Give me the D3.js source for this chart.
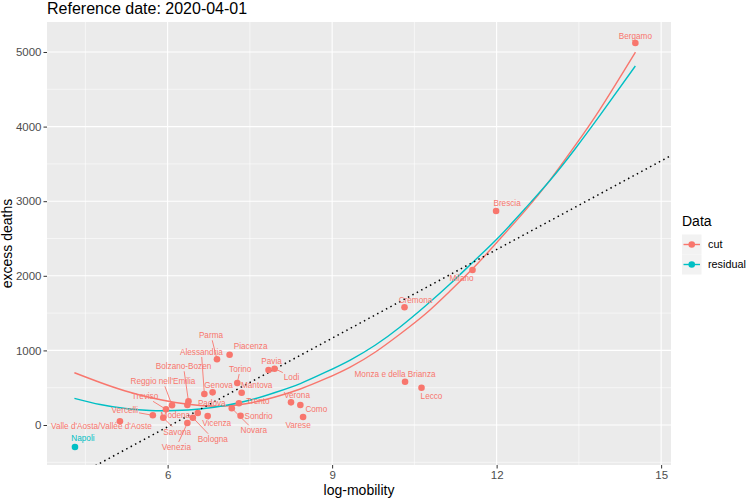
<!DOCTYPE html>
<html>
<head>
<meta charset="utf-8">
<script src="https://cdn.jsdelivr.net/npm/d3@7"></script>
<style>
  body { margin: 0; background: #fff; }
  text { font-family: "Liberation Sans", Arial, sans-serif; }
</style>
</head>
<body>
<div id="chart"></div>
<script>
// provinces
var provinces = ["Bergamo", "Brescia", "Milano", "Cremona", "Monza e della Brianza", "Lecco",
  "Verona", "Como", "Varese", "Pavia", "Lodi", "Piacenza", "Parma", "Alessandria", "Genova",
  "Torino", "Mantova", "Trento", "Novara", "Sondrio", "Vicenza", "Padova", "Bologna", "Venezia",
  "Savona", "Modena", "Bolzano-Bozen", "Reggio nell'Emilia", "Treviso", "Vercelli",
  "Valle d'Aosta/Vallée d'Aoste", "Napoli"]
var mobility = [14.53, 11.99, 11.56, 10.32, 10.33, 10.63,
  8.25, 8.42, 8.47, 7.84, 7.95, 7.13, 6.90, 6.67, 6.82,
  7.27, 7.35, 7.30, 7.17, 7.33, 6.73, 6.55, 6.46, 6.36,
  5.92, 6.36, 6.38, 6.08, 5.97, 5.73,
  5.13, 4.31]
var excessDeaths = [5121, 2869, 2078, 1578, 580, 500,
  304, 268, 107, 737, 755, 942, 881, 416, 438,
  563, 433, 291, 224, 125, 121, 161, 98, 27,
  98, 268, 318, 264, 210, 130,
  50, -295]
var dataType = ["cut", "cut", "cut", "cut", "cut", "cut",
  "cut", "cut", "cut", "cut", "cut", "cut", "cut", "cut", "cut",
  "cut", "cut", "cut", "cut", "cut", "cut", "cut", "cut", "cut",
  "cut", "cut", "cut", "cut", "cut", "cut",
  "cut", "residual"]

// where the repelled labels ended up (px from the point)
var labelDx = [0, 11, -11, 11, -10, 10,
  6, 16, -5, 3, 17, 21, -6, -3, 6,
  3, 15, 19, 22, 18, 9, 14, 20, -11,
  14, -12, -5, -9, -21, -28,
  -18.5, 8]
var labelDy = [-7, -8, 8, -7, -8, 8,
  -7, 4, 8, -9, 8, -9, -24, -42, -7,
  -14, -8, -2, 22, 0, 7, -10, 21, 24,
  14, 10, -35, -24, -13, -5,
  5, -9]
var labelSegment = [false, false, false, false, false, false,
  false, false, false, false, true, false, true, true, false,
  true, false, false, true, false, false, false, true, true,
  true, false, true, true, true, true,
  false, false]

// the two fitted curves
var fitX = [4.30, 4.77, 5.23, 5.68, 6.14, 6.59, 7.05, 7.51, 7.96, 8.42, 8.87, 9.33,
  9.79, 10.24, 10.70, 11.15, 11.61, 12.06, 12.52, 12.98, 13.43, 13.89, 14.53]
var fitCut = [701, 570, 456, 369, 302, 261, 255, 295, 375, 483, 617, 777,
  979, 1220, 1488, 1796, 2131, 2493, 2874, 3290, 3744, 4239, 4997]
var fitResidual = [358, 275, 221, 194, 194, 214, 261, 335, 436, 556, 704, 871,
  1072, 1314, 1595, 1890, 2212, 2534, 2902, 3284, 3700, 4156, 4812]

// dotted reference line
var ablineIntercept = -2400
var ablineSlope = 396

var xTicks = [6, 9, 12, 15]
var xMinor = [4.5, 7.5, 10.5, 13.5]
var yTicks = [0, 1000, 2000, 3000, 4000, 5000]
var yMinor = [-500, 500, 1500, 2500, 3500, 4500]
var groups = ["cut", "residual"]

var width = 746, height = 500
var panel = {left: 47, right: 671, top: 22, bottom: 465}

var svg = d3.select("#chart").append("svg")
  .attr("width", width)
  .attr("height", height)

var x = d3.scaleLinear().domain([3.80, 15.18]).range([panel.left, panel.right])
var y = d3.scaleLinear().domain([-536, 5402]).range([panel.bottom, panel.top])
var color = d3.scaleOrdinal().domain(groups).range(["#F8766D", "#00BFC4"])

// panel + grid
svg.append("rect")
  .attr("x", panel.left).attr("y", panel.top)
  .attr("width", panel.right - panel.left).attr("height", panel.bottom - panel.top)
  .attr("fill", "#EBEBEB")

svg.append("clipPath").attr("id", "clip")
  .append("rect")
  .attr("x", panel.left).attr("y", panel.top)
  .attr("width", panel.right - panel.left).attr("height", panel.bottom - panel.top)

var grid = svg.append("g").attr("stroke", "#fff")
grid.selectAll("line.xmin").data(xMinor).enter().append("line")
  .attr("x1", d => x(d)).attr("x2", d => x(d))
  .attr("y1", panel.top).attr("y2", panel.bottom)
  .attr("stroke-width", 0.55)
grid.selectAll("line.ymin").data(yMinor).enter().append("line")
  .attr("y1", d => y(d)).attr("y2", d => y(d))
  .attr("x1", panel.left).attr("x2", panel.right)
  .attr("stroke-width", 0.55)
grid.selectAll("line.xmaj").data(xTicks).enter().append("line")
  .attr("x1", d => x(d)).attr("x2", d => x(d))
  .attr("y1", panel.top).attr("y2", panel.bottom)
  .attr("stroke-width", 1.1)
grid.selectAll("line.ymaj").data(yTicks).enter().append("line")
  .attr("y1", d => y(d)).attr("y2", d => y(d))
  .attr("x1", panel.left).attr("x2", panel.right)
  .attr("stroke-width", 1.1)

var plot = svg.append("g").attr("clip-path", "url(#clip)")

// fitted curves
var line = d3.line()
  .x(d => x(d[0]))
  .y(d => y(d[1]))
  .curve(d3.curveNatural)

plot.append("path")
  .datum(fitX.map((v, i) => [v, fitCut[i]]))
  .attr("d", line)
  .attr("fill", "none")
  .attr("stroke", color("cut"))
  .attr("stroke-width", 1.4)

plot.append("path")
  .datum(fitX.map((v, i) => [v, fitResidual[i]]))
  .attr("d", line)
  .attr("fill", "none")
  .attr("stroke", color("residual"))
  .attr("stroke-width", 1.4)

// dotted abline over the whole x range
var xd = x.domain()
plot.append("line")
  .attr("x1", x(xd[0])).attr("y1", y(ablineIntercept + ablineSlope * xd[0]))
  .attr("x2", x(xd[1])).attr("y2", y(ablineIntercept + ablineSlope * xd[1]))
  .attr("stroke", "#000")
  .attr("stroke-width", 1.5)
  .attr("stroke-dasharray", "1.5,3.5")

// points
var pts = provinces.map((p, i) => ({name: p, mx: mobility[i], ed: excessDeaths[i], type: dataType[i],
  dx: labelDx[i], dy: labelDy[i], seg: labelSegment[i]}))

plot.selectAll("circle.pt").data(pts).enter().append("circle")
  .attr("cx", d => x(d.mx))
  .attr("cy", d => y(d.ed))
  .attr("r", 3.3)
  .attr("fill", d => color(d.type))

// labels (repel-like, offsets)
var labels = svg.append("g")
var lab = labels.selectAll("text").data(pts).enter().append("text")
  .attr("x", d => x(d.mx) + d.dx)
  .attr("y", d => y(d.ed) + d.dy)
  .attr("dy", "0.35em")
  .attr("text-anchor", "middle")
  .style("font-size", "8.2px")
  .attr("fill", d => color(d.type))
  .text(d => d.name)

// segments from the point to the label box
lab.each(function(d) {
  if (!d.seg) return
  var w = this.getComputedTextLength() / 2 + 1
  var h = 5
  var px = x(d.mx), py = y(d.ed)
  var cx = px + d.dx, cy = py + d.dy
  var vx = cx - px, vy = cy - py
  // find where the ray leaves the label box
  var tx = vx !== 0 ? (Math.abs(vx) - w) / Math.abs(vx) : -Infinity
  var ty = vy !== 0 ? (Math.abs(vy) - h) / Math.abs(vy) : -Infinity
  var t = Math.max(tx, ty)
  if (t <= 0) return
  var len = Math.sqrt(vx * vx + vy * vy)
  var t0 = 2 / len
  labels.append("line")
    .attr("x1", px + vx * t0).attr("y1", py + vy * t0)
    .attr("x2", px + vx * t).attr("y2", py + vy * t)
    .attr("stroke", color(d.type))
    .attr("stroke-width", 0.9)
})

// axes
var xAxis = svg.append("g")
  .attr("transform", "translate(0," + panel.bottom + ")")
  .call(d3.axisBottom(x).tickValues(xTicks).tickSize(3.5).tickPadding(2))
var yAxis = svg.append("g")
  .attr("transform", "translate(" + panel.left + ",0)")
  .call(d3.axisLeft(y).tickValues(yTicks).tickFormat(d3.format("d")).tickSize(3.5).tickPadding(2))

svg.selectAll(".domain").remove()
svg.selectAll(".tick line").attr("stroke", "#333").attr("stroke-width", 1)
svg.selectAll(".tick text")
  .attr("fill", "#4D4D4D")
  .style("font-size", "11.5px")
  .style("font-family", "'Liberation Sans', Arial, sans-serif")

// axis titles
svg.append("text")
  .attr("x", (panel.left + panel.right) / 2)
  .attr("y", 495)
  .attr("text-anchor", "middle")
  .style("font-size", "14px")
  .text("log-mobility")

svg.append("text")
  .attr("transform", "translate(12," + (panel.top + panel.bottom) / 2 + ") rotate(-90)")
  .attr("text-anchor", "middle")
  .style("font-size", "14px")
  .text("excess deaths")

// title
svg.append("text")
  .attr("x", panel.left)
  .attr("y", 14)
  .style("font-size", "16px")
  .text("Reference date: 2020-04-01")

// legend
var legend = svg.append("g").attr("transform", "translate(682,0)")
legend.append("text")
  .attr("x", 0).attr("y", 226)
  .style("font-size", "14px")
  .text("Data")

var key = legend.selectAll("g.key").data(groups).enter().append("g")
  .attr("transform", (d, i) => "translate(0," + (234.5 + i * 20) + ")")
key.append("rect")
  .attr("width", 19.5).attr("height", 20)
  .attr("fill", "#F2F2F2")
key.append("line")
  .attr("x1", 1.5).attr("x2", 18).attr("y1", 10).attr("y2", 10)
  .attr("stroke", d => color(d))
  .attr("stroke-width", 1.4)
key.append("circle")
  .attr("cx", 9.75).attr("cy", 10).attr("r", 3.3)
  .attr("fill", d => color(d))
key.append("text")
  .attr("x", 26).attr("y", 10).attr("dy", "0.35em")
  .style("font-size", "10.8px")
  .text(d => d)
</script>
</body>
</html>
